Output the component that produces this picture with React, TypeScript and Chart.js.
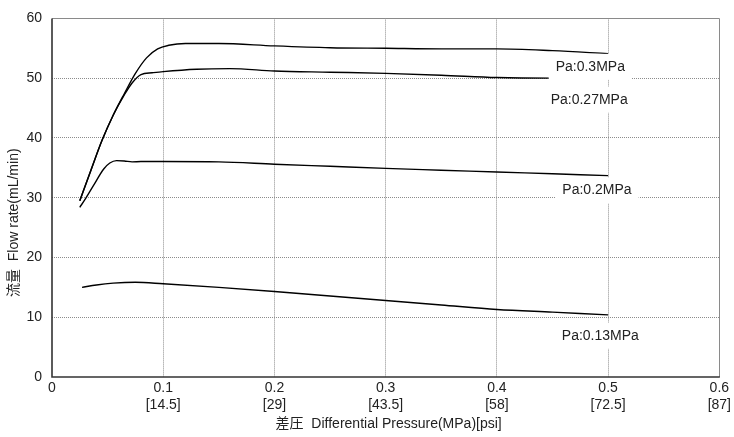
import React, { useEffect, useRef } from "react";
import { Chart, registerables } from "chart.js";

Chart.register(...registerables);

const FONT = "'Liberation Sans', Arial, 'Noto Sans CJK JP', sans-serif";

// X axis ticks (MPa) and their psi equivalents
const xTickValues = [0, 0.1, 0.2, 0.3, 0.4, 0.5, 0.6];
const xTickMPa = ["0", "0.1", "0.2", "0.3", "0.4", "0.5", "0.6"];
const xTickPsi = ["", "[14.5]", "[29]", "[43.5]", "[58]", "[72.5]", "[87]"];
const yTickValues = [0, 10, 20, 30, 40, 50, 60];

const xTitle = "差圧  Differential Pressure(MPa)[psi]";
const yTitle = "流量  Flow rate(mL/min)";

// Series: Pa 0.3 MPa
const x030 = [0.025, 0.035, 0.045, 0.055, 0.065, 0.075, 0.085, 0.095, 0.105, 0.12, 0.15, 0.2, 0.25, 0.3, 0.35, 0.4, 0.45, 0.5];
const y030 = [29.5, 34.6, 39.6, 43.8, 47.4, 50.8, 53.4, 54.9, 55.5, 55.8, 55.8, 55.4, 55.1, 55.0, 54.9, 54.9, 54.6, 54.1];

// Series: Pa 0.27 MPa
const x027 = [0.025, 0.035, 0.045, 0.055, 0.065, 0.072, 0.08, 0.09, 0.1, 0.13, 0.16, 0.2, 0.25, 0.3, 0.35, 0.4, 0.45, 0.5];
const y027 = [29.5, 34.6, 39.6, 43.8, 47.2, 49.2, 50.6, 50.9, 51.1, 51.5, 51.6, 51.2, 51.0, 50.8, 50.5, 50.1, 50.0, 50.1];

// Series: Pa 0.2 MPa
const x020 = [0.025, 0.03, 0.0375, 0.0465, 0.052, 0.058, 0.065, 0.072, 0.08, 0.1, 0.15, 0.2, 0.25, 0.3, 0.35, 0.4, 0.45, 0.5];
const y020 = [28.4, 29.8, 32.1, 34.8, 35.8, 36.2, 36.15, 36.0, 36.05, 36.05, 36.0, 35.6, 35.25, 34.9, 34.6, 34.3, 34.0, 33.7];

// Series: Pa 0.13 MPa
const x013 = [0.027, 0.04, 0.055, 0.075, 0.1, 0.15, 0.2, 0.25, 0.3, 0.35, 0.4, 0.45, 0.5];
const y013 = [15.0, 15.4, 15.7, 15.85, 15.6, 15.0, 14.3, 13.55, 12.8, 12.05, 11.3, 10.85, 10.4];

// Curve labels (anchored in data units)
const labelTexts = ["Pa:0.3MPa", "Pa:0.27MPa", "Pa:0.2MPa", "Pa:0.13MPa"];
const labelX = [0.484, 0.483, 0.49, 0.493];
const labelY = [51.9, 46.4, 31.2, 6.9];

function pts(xs: number[], ys: number[]) {
  return xs.map((x, i) => ({ x, y: ys[i] }));
}

const framePlugin = {
  id: "frame",
  beforeDatasetsDraw(chart: any) {
    const { ctx, chartArea } = chart;
    const { left, right, top, bottom } = chartArea;
    ctx.save();
    ctx.strokeStyle = "#8a8a8a";
    ctx.lineWidth = 1;
    ctx.beginPath();
    ctx.moveTo(left, Math.round(top) + 0.5);
    ctx.lineTo(Math.round(right) + 0.5, Math.round(top) + 0.5);
    ctx.lineTo(Math.round(right) + 0.5, bottom);
    ctx.stroke();
    ctx.strokeStyle = "#333";
    ctx.lineWidth = 1.6;
    ctx.beginPath();
    ctx.moveTo(left, top);
    ctx.lineTo(left, bottom);
    ctx.lineTo(right + 0.5, bottom);
    ctx.stroke();
    ctx.restore();
  },
};

const labelPlugin = {
  id: "curveLabels",
  afterDatasetsDraw(chart: any) {
    const { ctx, scales } = chart;
    ctx.save();
    ctx.font = `14px ${FONT}`;
    ctx.textAlign = "center";
    ctx.textBaseline = "middle";
    labelTexts.forEach((t, i) => {
      const cx = scales.x.getPixelForValue(labelX[i]);
      const cy = scales.y.getPixelForValue(labelY[i]);
      const w = ctx.measureText(t).width + 14;
      const h = 26;
      ctx.fillStyle = "#fff";
      ctx.fillRect(cx - w / 2, cy - h / 2, w, h);
      ctx.fillStyle = "#222";
      ctx.fillText(t, cx, cy);
    });
    ctx.restore();
  },
};

const titlePlugin = {
  id: "axisTitles",
  afterDraw(chart: any) {
    const { ctx, chartArea } = chart;
    ctx.save();
    ctx.fillStyle = "#222";
    ctx.font = `14px ${FONT}`;
    ctx.textAlign = "center";
    ctx.textBaseline = "middle";
    ctx.fillText(xTitle, (chartArea.left + chartArea.right) / 2 + 3, 424);
    ctx.translate(14, (chartArea.top + chartArea.bottom) / 2 + 25);
    ctx.rotate(-Math.PI / 2);
    ctx.fillText(yTitle, 0, 0);
    ctx.restore();
  },
};

export default function App() {
  const ref = useRef<HTMLCanvasElement | null>(null);

  useEffect(() => {
    if (!ref.current) return;
    const line = (label: string, xs: number[], ys: number[]) => ({
      label,
      data: pts(xs, ys),
      borderColor: "#000",
      borderWidth: 1.4,
      pointRadius: 0,
      fill: false,
      cubicInterpolationMode: "monotone" as const,
    });
    const chart = new Chart(ref.current, {
      type: "line",
      data: {
        datasets: [
          line(labelTexts[0], x030, y030),
          line(labelTexts[1], x027, y027),
          line(labelTexts[2], x020, y020),
          line(labelTexts[3], x013, y013),
        ],
      },
      options: {
        responsive: false,
        animation: false,
        devicePixelRatio: 1,
        layout: { padding: { top: 11, right: 14, left: 0, bottom: 0 } },
        plugins: { legend: { display: false }, tooltip: { enabled: false } },
        scales: {
          x: {
            type: "linear",
            min: 0,
            max: 0.6,
            afterBuildTicks: (s: any) => {
              s.ticks = xTickValues.map((v) => ({ value: v }));
            },
            afterFit: (s: any) => {
              s.height = 60;
            },
            ticks: {
              padding: 3,
              maxRotation: 0,
              autoSkip: false,
              color: "#222",
              font: { family: FONT, size: 14, lineHeight: 1.2 },
              callback: (v: any) => {
                const i = xTickValues.findIndex((t) => Math.abs(t - Number(v)) < 1e-6);
                if (i < 0) return "";
                return i === 0 ? xTickMPa[0] : [xTickMPa[i], xTickPsi[i]];
              },
            },
            grid: {
              drawTicks: false,
              color: (c: any) => (c.index === 0 || c.index === xTickValues.length - 1 ? "rgba(0,0,0,0)" : "#8c8c8c"),
              lineWidth: 1,
            },
            border: { display: false, dash: [1, 1] },
          },
          y: {
            type: "linear",
            min: 0,
            max: 60,
            afterBuildTicks: (s: any) => {
              s.ticks = yTickValues.map((v) => ({ value: v }));
            },
            afterFit: (s: any) => {
              s.width = 52;
            },
            ticks: {
              padding: 10,
              color: "#222",
              font: { family: FONT, size: 14 },
            },
            grid: {
              drawTicks: false,
              color: (c: any) => (c.index === 0 || c.index === yTickValues.length - 1 ? "rgba(0,0,0,0)" : "#8c8c8c"),
              lineWidth: 1,
            },
            border: { display: false, dash: [1, 1] },
          },
        },
      } as any,
      plugins: [framePlugin, labelPlugin, titlePlugin],
    });
    return () => chart.destroy();
  }, []);

  return (
    <div style={{ position: "absolute", left: 0, top: 0, width: 734, height: 437, background: "#fff" }}>
      <canvas ref={ref} width={734} height={437} style={{ display: "block" }} />
    </div>
  );
}
